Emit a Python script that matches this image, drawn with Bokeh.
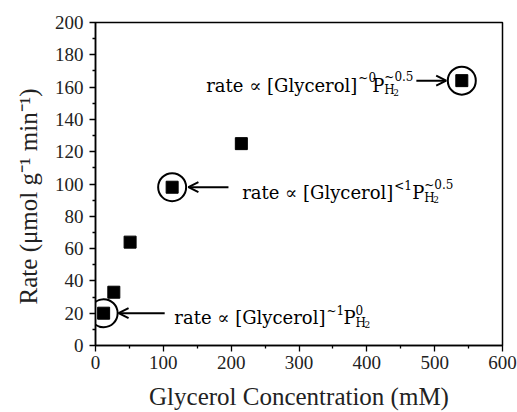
from bokeh.plotting import figure
from bokeh.models import Range1d, Arrow, OpenHead, Label, FixedTicker
from bokeh.embed import file_html
from bokeh.resources import INLINE

# ---- data ----
glycerol_mM = [12, 27, 51, 113, 215, 540]
rate = [20, 33, 64, 98, 125, 164]
highlight_idx = [0, 3, 5]

x_major = [0, 100, 200, 300, 400, 500, 600]
x_minor = [50, 150, 250, 350, 450, 550]
y_major = [0, 20, 40, 60, 80, 100, 120, 140, 160, 180, 200]
y_minor = [10, 30, 50, 70, 90, 110, 130, 150, 170, 190]

ann_main = ["rate \u221d [Glycerol]", "rate \u221d [Glycerol]", "rate \u221d [Glycerol]"]
ann_glyc_exp = ["~1", "<1", "~0"]
ann_h2_exp = ["0", "~0.5", "~0.5"]
ann_x = [339, 439, 386]
ann_y = [17.3, 94.7, 161]
arrow_from_x = [102, 196, 473]
arrow_to_x = [34, 137, 517]

SERIF = "Liberation Serif"
ASERIF = "DejaVu Serif"

p = figure(width=517, height=412, output_backend="svg", toolbar_location=None,
           x_range=Range1d(0, 600), y_range=Range1d(0, 200),
           min_border_left=95, min_border_right=15, min_border_top=22, min_border_bottom=67)
p.grid.visible = False
p.outline_line_color = "black"
p.outline_line_width = 1.5
p.background_fill_color = "white"
p.border_fill_color = "white"

p.xaxis.ticker = FixedTicker(ticks=x_major, minor_ticks=x_minor)
p.yaxis.ticker = FixedTicker(ticks=y_major, minor_ticks=y_minor)
for ax in (p.xaxis[0], p.yaxis[0]):
    ax.axis_line_width = 1.5
    ax.axis_line_color = "black"
    ax.major_tick_in = 0
    ax.major_tick_out = 6
    ax.minor_tick_in = 0
    ax.minor_tick_out = 3
    ax.major_tick_line_width = 1.3
    ax.minor_tick_line_width = 1.3
    ax.major_label_text_font = SERIF
    ax.major_label_text_font_size = "19px"
    ax.major_label_text_color = "#222222"
    ax.axis_label_text_font = SERIF
    ax.axis_label_text_font_style = "normal"
    ax.axis_label_text_font_size = "25px"
    ax.axis_label_text_color = "#222222"
p.xaxis.major_label_standoff = 4
p.yaxis.major_label_standoff = 6
p.xaxis.axis_label = "Glycerol Concentration (mM)"
p.yaxis.axis_label = "Rate (\u03bcmol g\u207b\u00b9 min\u207b\u00b9)\u00a0\u00a0\u00a0\u00a0"
p.xaxis.axis_label_standoff = 11
p.yaxis.axis_label_standoff = 10

# data points
p.scatter(glycerol_mM, rate, marker="square", size=12, color="black")
hx = [glycerol_mM[i] for i in highlight_idx]
hy = [rate[i] for i in highlight_idx]
p.scatter(hx, hy, marker="circle", size=28, fill_color=None, line_color="black", line_width=2)

# arrows
for i, k in enumerate(highlight_idx):
    p.add_layout(Arrow(end=OpenHead(size=10, line_width=2, line_color="black"),
                       x_start=arrow_from_x[i], y_start=rate[k],
                       x_end=arrow_to_x[i], y_end=rate[k],
                       line_width=2, line_color="black"))

# annotation texts
sup_w = [18, 19, 15]
P_W = 12
for i in range(3):
    common = dict(x=ann_x[i], y=ann_y[i], x_units="data", y_units="data",
                  text_font=ASERIF, text_color="black", text_baseline="alphabetic")
    p.add_layout(Label(text=ann_main[i], text_align="right", text_font_size="18px", **common))
    p.add_layout(Label(text=ann_glyc_exp[i], text_align="left", text_font_size="12px",
                       x_offset=1, y_offset=7, **common))
    p.add_layout(Label(text="P", text_align="left", text_font_size="18px",
                       x_offset=sup_w[i], **common))
    p.add_layout(Label(text=ann_h2_exp[i], text_align="left", text_font_size="12px",
                       x_offset=sup_w[i] + P_W, y_offset=8, **common))
    p.add_layout(Label(text="H", text_align="left", text_font_size="12px",
                       x_offset=sup_w[i] + P_W, y_offset=-5, **common))
    p.add_layout(Label(text="2", text_align="left", text_font_size="9px",
                       x_offset=sup_w[i] + P_W + 9, y_offset=-7, **common))

open("out.html", "w").write(file_html(p, INLINE))
